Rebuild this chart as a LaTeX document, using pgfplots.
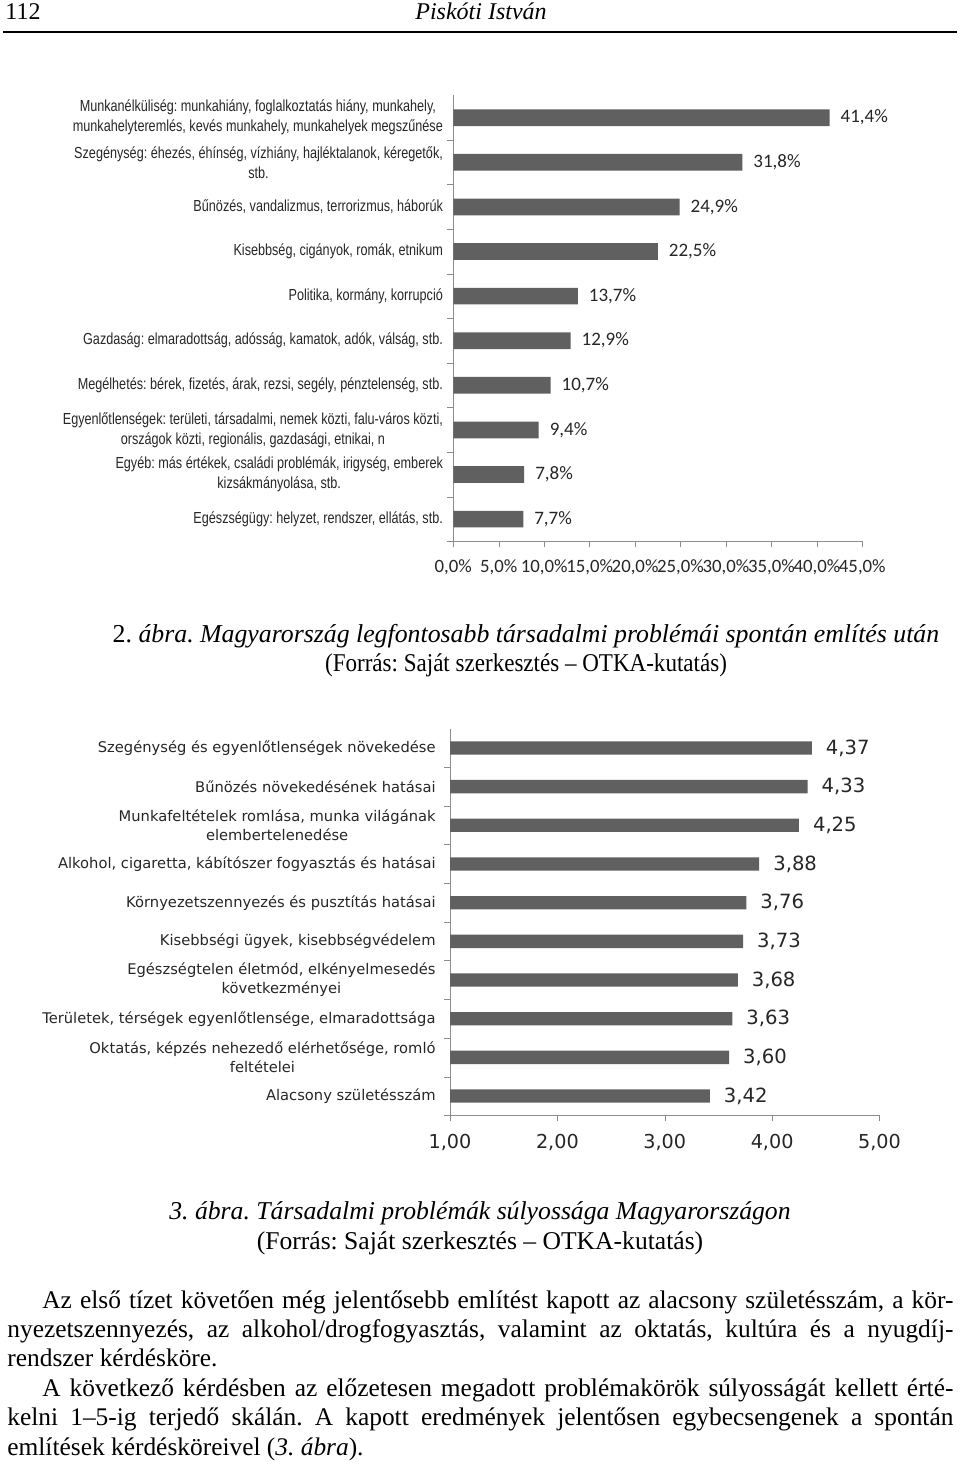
\documentclass[border=0pt]{standalone}
\usepackage{pgfplots}
\pgfplotsset{compat=1.18}
\usepackage{fontspec}
\setmainfont{Liberation Serif}
\newfontfamily\chartA[FakeStretch=0.79]{Liberation Sans}
\newfontfamily\calib{Carlito}
\newfontfamily\verd{DejaVu Sans}
\definecolor{barc}{HTML}{606060}
\definecolor{axc}{HTML}{8C8C8C}
\definecolor{txc}{HTML}{262626}
\frenchspacing
\begin{document}
\frenchspacing
\begin{tikzpicture}
\path[use as bounding box] (0pt,0pt) rectangle (480pt,-732.5pt);
% header
\node[anchor=base west, inner sep=0] at (2.5pt,-10pt) {\fontsize{12}{14}\selectfont 112};
\node[anchor=base, inner sep=0] at (240.5pt,-10pt) {\fontsize{12}{14}\selectfont\itshape Piskóti István};
\draw[line width=1pt] (1.5pt,-16pt) -- (478.5pt,-16pt);

% chart 1
\begin{axis}[
  at={(226.65pt,-270.7pt)}, anchor=south west,
  scale only axis, width=204.5pt, height=223pt,
  xbar, bar width=8.35pt, clip=false,
  xmin=0, xmax=45, ymin=0.5, ymax=10.5, y dir=reverse,
  axis lines*=left, axis line style={draw=axc},
  xtick={0,5,...,45}, tick align=outside, major tick length=3pt, minor tick length=3pt,
  x tick style={draw=axc},
  xticklabel={\pgfmathprintnumber{\tick}\%},
  xticklabel style={font=\calib\fontsize{9.4}{10}\selectfont, text=txc, inner sep=1pt, yshift=-5pt},
  ytick={1,...,10},
  major y tick style={draw=none},
  minor ytick={1.5,2.5,...,10.5},
  minor y tick style={draw=axc},
  yticklabel style={font=\chartA\fontsize{8}{10}\selectfont, text=txc, align=center, inner sep=0pt, xshift=-2pt},
  yticklabels={
    {Munkanélküliség: munkahiány, foglalkoztatás hiány, munkahely,\\munkahelyteremlés, kevés munkahely, munkahelyek megszűnése},
    {Szegénység: éhezés, éhínség, vízhiány, hajléktalanok, kéregetők,\\stb.},
    {Bűnözés, vandalizmus, terrorizmus, háborúk},
    {Kisebbség, cigányok, romák, etnikum},
    {Politika, kormány, korrupció},
    {Gazdaság: elmaradottság, adósság, kamatok, adók, válság, stb.},
    {Megélhetés: bérek, fizetés, árak, rezsi, segély, pénztelenség, stb.},
    {Egyenlőtlenségek: területi, társadalmi, nemek közti, falu-város közti,\\országok közti, regionális, gazdasági, etnikai, n},
    {Egyéb: más értékek, családi problémák, irigység, emberek\\kizsákmányolása, stb.},
    {Egészségügy: helyzet, rendszer, ellátás, stb.}},
  point meta=x,
  nodes near coords={\pgfmathprintnumber{\pgfplotspointmeta}\%},
  nodes near coords style={font=\calib\fontsize{9.5}{10}\selectfont, text=txc, anchor=west, xshift=2pt},
  /pgf/number format/use comma,
  /pgf/number format/fixed,
  /pgf/number format/fixed zerofill,
  /pgf/number format/precision=1,
  /pgf/number format/assume math mode=true,
]
\addplot[fill=barc, draw=none] coordinates {
(41.4,1) (31.8,2) (24.9,3) (22.5,4) (13.7,5) (12.9,6) (10.7,7) (9.4,8) (7.8,9) (7.7,10)};
\end{axis}

\node[anchor=base, inner sep=0] at (263pt,-321pt) {\fontsize{12.9}{14}\selectfont 2. \textit{ábra. Magyarország legfontosabb társadalmi problémái spontán említés után}};
\node[anchor=base, inner sep=0] at (263pt,-335.5pt) {\scalebox{0.9}[1]{\fontsize{12.8}{14}\selectfont (Forrás: Saját szerkesztés – OTKA-kutatás)}};

% chart 2
\begin{axis}[
  at={(225pt,-557.7pt)}, anchor=south west,
  scale only axis, width=214.75pt, height=193.4pt,
  xbar, bar width=6.65pt,
  xmin=1, xmax=5, ymin=0.5, ymax=10.5, y dir=reverse,
  axis lines*=left, axis line style={draw=axc},
  xtick={1,...,5}, tick align=outside, major tick length=3pt, minor tick length=3pt,
  x tick style={draw=axc},
  xticklabel style={font=\verd\fontsize{9.6}{10}\selectfont, text=txc, inner sep=1pt, yshift=-5pt},
  ytick={1,...,10},
  major y tick style={draw=none},
  minor ytick={1.5,2.5,...,10.5},
  minor y tick style={draw=axc},
  yticklabel style={font=\verd\fontsize{7.35}{9.5}\selectfont, text=txc, align=center, inner sep=0pt, xshift=-4pt},
  yticklabels={
    {Szegénység és egyenlőtlenségek növekedése},
    {Bűnözés növekedésének hatásai},
    {Munkafeltételek romlása, munka világának\\elembertelenedése},
    {Alkohol, cigaretta, kábítószer fogyasztás és hatásai},
    {Környezetszennyezés és pusztítás hatásai},
    {Kisebbségi ügyek, kisebbségvédelem},
    {Egészségtelen életmód, elkényelmesedés\\következményei},
    {Területek, térségek egyenlőtlensége, elmaradottsága},
    {Oktatás, képzés nehezedő elérhetősége, romló\\feltételei},
    {Alacsony születésszám}},
  point meta=x,
  nodes near coords,
  nodes near coords style={font=\verd\fontsize{9.8}{10}\selectfont, text=txc, anchor=west, xshift=3.5pt},
  /pgf/number format/use comma,
  /pgf/number format/fixed,
  /pgf/number format/fixed zerofill,
  /pgf/number format/precision=2,
  /pgf/number format/assume math mode=true,
]
\addplot[fill=barc, draw=none] coordinates {
(4.37,1) (4.33,2) (4.25,3) (3.88,4) (3.76,5) (3.73,6) (3.68,7) (3.63,8) (3.60,9) (3.42,10)};
\end{axis}

\node[anchor=base, inner sep=0] at (240pt,-609.5pt) {\fontsize{12.85}{14}\selectfont\itshape 3. ábra. Társadalmi problémák súlyossága Magyarországon};
\node[anchor=base, inner sep=0] at (240pt,-624.5pt) {\fontsize{12.8}{14}\selectfont (Forrás: Saját szerkesztés – OTKA-kutatás)};

% paragraph
\node[anchor=base west, inner sep=0] at (3.5pt,-654pt) {\parbox[t]{473pt}{\fontsize{12.7}{14.7}\selectfont\frenchspacing\hyphenpenalty=10000 \exhyphenpenalty=10000 \emergencystretch=20pt
\hspace*{17.5pt}Az első tízet követően még jelentősebb említést kapott az alacsony születésszám, a kör-\linebreak
nyezetszennyezés, az alkohol/drogfogyasztás, valamint az oktatás, kultúra és a nyugdíj-\linebreak
rendszer kérdésköre.\par
\hspace*{17.5pt}A következő kérdésben az előzetesen megadott problémakörök súlyosságát kellett érté-\linebreak
kelni 1–5-ig terjedő skálán. A kapott eredmények jelentősen egybecsengenek a spontán\linebreak
említések kérdésköreivel (\textit{3. ábra}).}};
\end{tikzpicture}
\end{document}
